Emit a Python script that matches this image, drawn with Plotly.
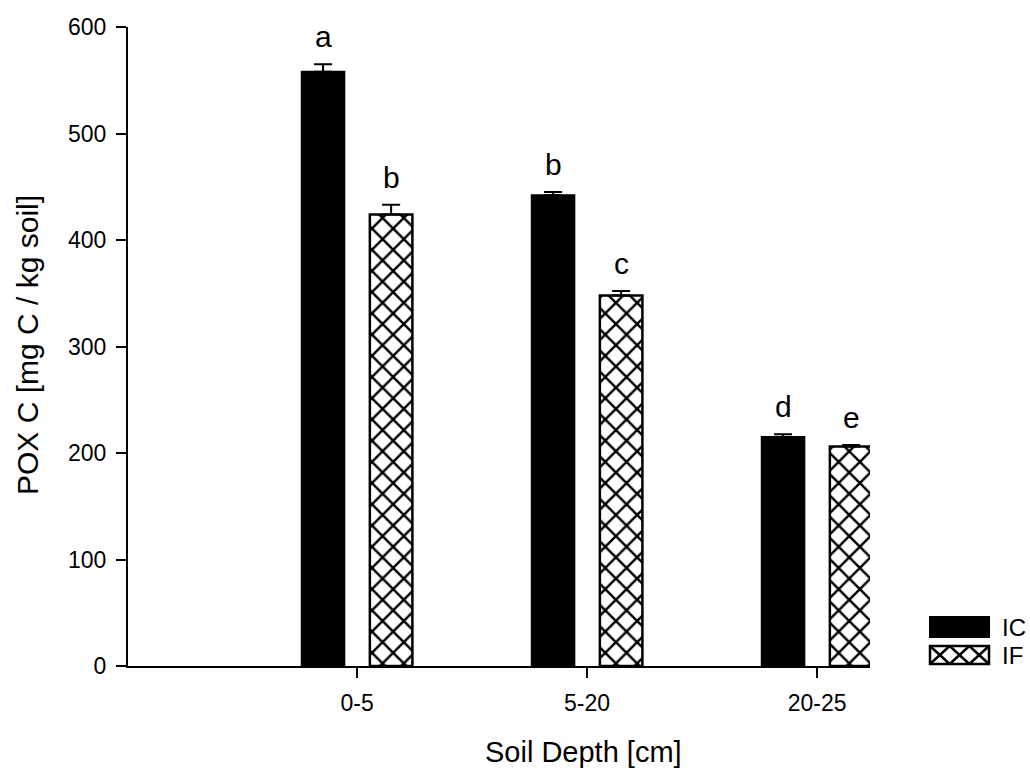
import plotly.graph_objects as go

# ---- data ----
depths = ["0-5", "5-20", "20-25"]
ic_values = [558, 442, 215]
ic_err = [7, 3, 2.5]
if_values = [424, 348, 206]
if_err = [9, 4, 1.5]
ic_letters = ["a", "b", "d"]
if_letters = ["b", "c", "e"]
y_ticks = [0, 100, 200, 300, 400, 500, 600]

FONT = "Liberation Sans, Arial, sans-serif"
W, H = 1030, 770
L, R, T, B = 128, 160, 27, 104

fig = go.Figure()
fig.add_trace(go.Bar(
    x=depths, y=ic_values, name="IC",
    marker=dict(color="black", line=dict(color="black", width=2)),
    error_y=dict(type="data", symmetric=False, array=ic_err,
                 arrayminus=[0] * len(ic_err), color="black",
                 thickness=2, width=9),
    showlegend=False,
))
fig.add_trace(go.Bar(
    x=depths, y=if_values, name="IF",
    marker=dict(color="white", line=dict(color="black", width=2.5),
                pattern=dict(shape="x", fgcolor="black", bgcolor="white",
                             fgopacity=1, size=15, solidity=0.3,
                             fillmode="replace")),
    error_y=dict(type="data", symmetric=False, array=if_err,
                 arrayminus=[0] * len(if_err), color="black",
                 thickness=2, width=9),
    showlegend=False,
))

annotations = []
for i, d in enumerate(depths):
    annotations.append(dict(x=d, y=ic_values[i] + ic_err[i], xref="x", yref="y",
                            text=ic_letters[i], showarrow=False, xshift=-34,
                            yanchor="bottom", yshift=9,
                            font=dict(size=30, color="black", family=FONT)))
    annotations.append(dict(x=d, y=if_values[i] + if_err[i], xref="x", yref="y",
                            text=if_letters[i], showarrow=False, xshift=34,
                            yanchor="bottom", yshift=9,
                            font=dict(size=30, color="black", family=FONT)))

pw, ph = W - L - R, H - T - B
def px(x):
    return (x - L) / pw
def py(y):
    return (H - B - y) / ph

# axis titles
annotations.append(dict(x=px(583), y=py(752), xref="paper", yref="paper",
                        xanchor="center", yanchor="middle",
                        text="Soil Depth [cm]", showarrow=False,
                        font=dict(size=29, color="black", family=FONT)))
annotations.append(dict(x=px(27), y=py(345), xref="paper", yref="paper",
                        xanchor="center", yanchor="middle",
                        text="POX C [mg C / kg soil]", showarrow=False, textangle=-90,
                        font=dict(size=30, color="black", family=FONT)))

# legend (drawn)
shapes = []
bx0, bx1 = 930, 989
ic_y0, ic_y1 = 617, 637
if_y0, if_y1 = 646, 664
shapes.append(dict(type="rect", xref="paper", yref="paper",
                   x0=px(bx0), x1=px(bx1), y0=py(ic_y1), y1=py(ic_y0),
                   fillcolor="black", line=dict(color="black", width=2)))
shapes.append(dict(type="rect", xref="paper", yref="paper",
                   x0=px(bx0), x1=px(bx1), y0=py(if_y1), y1=py(if_y0),
                   fillcolor="white", line=dict(color="black", width=2.5)))
n = 3
cw = (bx1 - bx0) / n
for k in range(n):
    xa, xb = bx0 + k * cw, bx0 + (k + 1) * cw
    shapes.append(dict(type="line", xref="paper", yref="paper",
                       x0=px(xa), x1=px(xb), y0=py(if_y0), y1=py(if_y1),
                       line=dict(color="black", width=2.5)))
    shapes.append(dict(type="line", xref="paper", yref="paper",
                       x0=px(xa), x1=px(xb), y0=py(if_y1), y1=py(if_y0),
                       line=dict(color="black", width=2.5)))
annotations.append(dict(x=px(1000), y=py(627), xref="paper", yref="paper",
                        text="IC", showarrow=False, xanchor="left", yanchor="middle",
                        font=dict(size=24, color="black", family=FONT)))
annotations.append(dict(x=px(1000), y=py(655), xref="paper", yref="paper",
                        text="IF", showarrow=False, xanchor="left", yanchor="middle",
                        font=dict(size=24, color="black", family=FONT)))

fig.update_layout(
    width=W, height=H,
    margin=dict(l=L, r=R, t=T, b=B, pad=0),
    paper_bgcolor="white", plot_bgcolor="white",
    barmode="group", bargap=0.408, bargroupgap=0.375,
    font=dict(family=FONT, color="black", size=23),
    annotations=annotations, shapes=shapes,
    xaxis=dict(type="category", range=[-0.996, 2.23], showgrid=False,
               showline=True, linecolor="black", linewidth=2,
               ticks="outside", ticklen=10, tickwidth=2, tickcolor="black",
               tickfont=dict(size=23, family=FONT, color="black"),
               ticklabelstandoff=5, zeroline=False),
    yaxis=dict(range=[0, 600], tickvals=y_ticks, showgrid=False,
               showline=True, linecolor="black", linewidth=2,
               ticks="outside", ticklen=10, tickwidth=2, tickcolor="black",
               tickfont=dict(size=23, family=FONT, color="black"),
               ticklabelstandoff=5, zeroline=False),
)

fig.write_html("out.html")
